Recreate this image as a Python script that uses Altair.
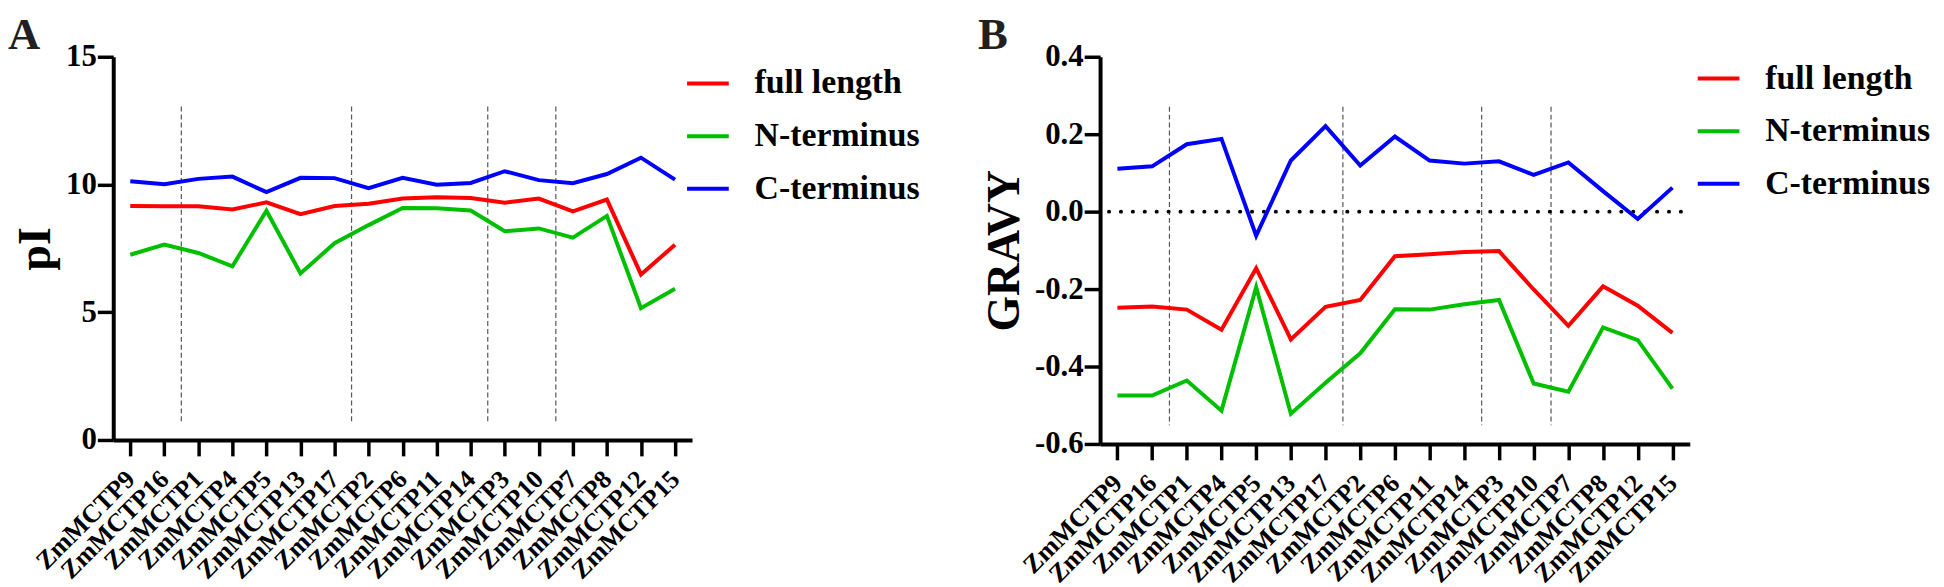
import json
import altair as alt
import pandas as pd

FONT = "Liberation Serif"

genes = ["ZmMCTP9", "ZmMCTP16", "ZmMCTP1", "ZmMCTP4", "ZmMCTP5", "ZmMCTP13",
         "ZmMCTP17", "ZmMCTP2", "ZmMCTP6", "ZmMCTP11", "ZmMCTP14", "ZmMCTP3",
         "ZmMCTP10", "ZmMCTP7", "ZmMCTP8", "ZmMCTP12", "ZmMCTP15"]
series = ["full length", "N-terminus", "C-terminus"]
colors = ["#ff0000", "#00bf00", "#0000ff"]

# Panel A: pI
pi_full = [9.16, 9.15, 9.15, 9.02, 9.30, 8.84, 9.16, 9.25, 9.45, 9.50, 9.47,
           9.29, 9.45, 8.95, 9.41, 6.48, 7.64]
pi_n = [7.25, 7.65, 7.32, 6.80, 8.97, 6.52, 7.70, 8.41, 9.08, 9.07, 8.98,
        8.17, 8.28, 7.92, 8.77, 5.16, 5.92]
pi_c = [10.13, 10.01, 10.22, 10.31, 9.70, 10.26, 10.25, 9.86, 10.26, 9.99,
        10.06, 10.52, 10.17, 10.05, 10.41, 11.05, 10.19]

# Panel B: GRAVY
gravy_full = [-0.248, -0.245, -0.253, -0.305, -0.146, -0.330, -0.246, -0.228,
              -0.115, -0.110, -0.104, -0.102, -0.201, -0.295, -0.193, -0.243,
              -0.313]
gravy_n = [-0.475, -0.475, -0.436, -0.514, -0.195, -0.522, -0.442, -0.366,
           -0.252, -0.253, -0.239, -0.228, -0.444, -0.465, -0.299, -0.332,
           -0.457]
gravy_c = [0.111, 0.117, 0.174, 0.188, -0.062, 0.132, 0.221, 0.119, 0.194,
           0.132, 0.124, 0.130, 0.095, 0.127, 0.053, -0.019, 0.062]

# group separators (between category positions, 0-based index)
group_breaks = [1.5, 6.5, 10.5, 12.5]
pi_ticks = [0, 5, 10, 15]
gravy_ticks = [-0.6, -0.4, -0.2, 0.0, 0.2, 0.4]


def long_df(vals_list):
    rows = []
    for name, vals in zip(series, vals_list):
        for i, v in enumerate(vals):
            rows.append({"idx": i, "gene": genes[i], "series": name, "value": v})
    return pd.DataFrame(rows)


label_expr = json.dumps(genes) + "[datum.value]"


def panel(df, ytitle, ydomain, yticks, ylabel_expr, width, height, letter,
          letter_dx, title_offset, dash_top, dash_bottom, legend_x, legend_y,
          zero_line):
    xscale = alt.Scale(domain=[-0.5, len(genes) - 0.5], nice=False, zero=False)
    xaxis = alt.Axis(values=list(range(len(genes))), labelExpr=label_expr,
                     labelAngle=-45, labelAlign="right", labelBaseline="middle",
                     labelFont=FONT, labelFontWeight="bold", labelFontSize=26,
                     labelColor="black", labelPadding=19, tickSize=16,
                     tickWidth=3.5, tickColor="black", domainWidth=4,
                     domainColor="black", grid=False, title=None,
                     labelOverlap=False, labelFlush=False, labelLimit=300)
    yscale = alt.Scale(domain=ydomain, nice=False, zero=False)
    yaxis = alt.Axis(values=yticks, labelExpr=ylabel_expr, labelFont=FONT,
                     labelFontWeight="bold", labelFontSize=31, labelColor="black",
                     labelPadding=1, tickSize=16, tickWidth=3.5, tickColor="black",
                     domainWidth=4, domainColor="black", grid=False,
                     labelOverlap=False,
                     title=ytitle, titleFont=FONT, titleFontSize=46,
                     titleFontWeight="bold", titleColor="black", titlePadding=6)

    lines = alt.Chart(df).mark_line(strokeWidth=4).encode(
        x=alt.X("idx:Q", scale=xscale, axis=xaxis),
        y=alt.Y("value:Q", scale=yscale, axis=yaxis),
        color=alt.Color("series:N",
                        scale=alt.Scale(domain=series, range=colors),
                        sort=series,
                        legend=alt.Legend(title=None, orient="none",
                                          legendX=legend_x, legendY=legend_y,
                                          symbolType="stroke", symbolSize=1764,
                                          symbolStrokeWidth=4, labelFont=FONT,
                                          labelFontSize=34, labelFontWeight="bold",
                                          labelColor="black", labelOffset=24,
                                          rowPadding=13, padding=0,
                                          labelLimit=400)),
        detail="series:N",
    )

    breaks = alt.Chart(pd.DataFrame({"pos": group_breaks})).mark_rule(
        color="#555555", strokeWidth=1.2, strokeDash=[5, 3]
    ).encode(
        x=alt.X("pos:Q", scale=xscale, axis=xaxis),
        y=alt.YDatum(dash_top, scale=yscale, axis=yaxis),
        y2=alt.datum(dash_bottom),
    )

    layers = [breaks]
    if zero_line:
        zl = alt.Chart(pd.DataFrame({"z": [0.0]})).mark_rule(
            color="black", strokeWidth=4, strokeDash=[0.1, 11.9], strokeCap="round"
        ).encode(
            y=alt.Y("z:Q", scale=yscale, axis=yaxis),
            x=alt.value(9),
            x2=alt.value(width - 7),
        )
        layers.append(zl)
    layers.append(lines)

    return alt.layer(*layers).properties(
        width=width, height=height,
        title=alt.TitleParams(letter, anchor="start", frame="group", dx=letter_dx,
                              offset=title_offset, font=FONT, fontSize=45,
                              fontWeight="bold", color="#231f20"),
    )


pi_label_expr = "format(datum.value, 'd')"
gravy_label_expr = "replace(format(datum.value, '.1f'), '\u2212', '-')"

chart_a = panel(long_df([pi_full, pi_n, pi_c]), "pI", [0, 15], pi_ticks,
                pi_label_expr, 583, 386, "A", -106, -17, 13.05, 0.65, 576, 4,
                False)
chart_b = panel(long_df([gravy_full, gravy_n, gravy_c]), "GRAVY", [-0.6, 0.4],
                gravy_ticks, gravy_label_expr, 594, 390, "B", -123, -17,
                0.271, -0.552, 600, -1, True)

chart = alt.concat(chart_a, chart_b, columns=2, align="none",
                   spacing=58).resolve_legend(
    color="independent"
).properties(
    padding={"left": 0, "top": 3, "right": 5, "bottom": 0}
).configure_view(stroke=None).configure_axis(
    labelOverlap=False, labelFont=FONT, labelFontWeight="bold",
    labelColor="black", titleFont=FONT, titleFontWeight="bold", grid=False
).configure_axisX(labelFontSize=26).configure_axisY(labelFontSize=31)

chart.save("out.html", embed_options={"renderer": "svg", "actions": False})
